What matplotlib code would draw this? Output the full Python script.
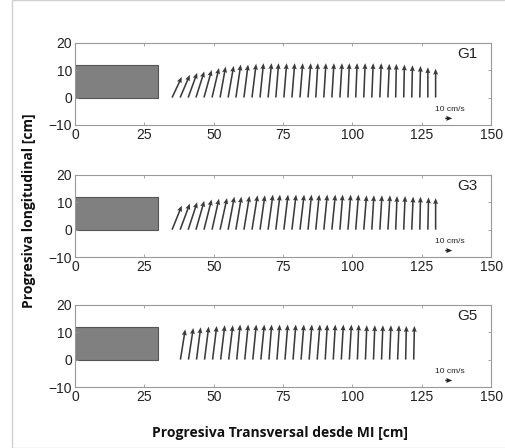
import numpy as np
import matplotlib
matplotlib.use("Agg")
import matplotlib.pyplot as plt
from matplotlib.patches import Rectangle

# arrow base positions along the cross-section [cm]
x_g1 = [35.0, 37.9, 40.8, 43.6, 46.5, 49.4, 52.3, 55.2, 58.0, 60.9, 63.8, 66.7,
        69.6, 72.4, 75.3, 78.2, 81.1, 84.0, 86.8, 89.7, 92.6, 95.5, 98.4, 101.2,
        104.1, 107.0, 109.9, 112.8, 115.6, 118.5, 121.4, 124.3, 127.2, 130.0]
x_g3 = list(x_g1)
x_g5 = [38.0, 40.9, 43.8, 46.7, 49.6, 52.5, 55.4, 58.3, 61.2, 64.1, 67.0, 69.9,
        72.8, 75.7, 78.6, 81.5, 84.4, 87.3, 90.2, 93.1, 96.0, 98.9, 101.8, 104.7,
        107.6, 110.5, 113.4, 116.3, 119.2, 122.1]

# velocity components [cm/s]
u_g1 = [14, 14, 13, 12, 11, 10, 8, 8, 7, 6, 6, 5, 5, 4, 4, 4, 4, 4, 3, 3, 3, 3,
        2, 2, 2, 2, 2, 2, 1, 1, 1, 1, 0, 0]
v_g1 = [30, 33, 36, 38, 40, 43, 45, 46, 48, 48, 49, 50, 50, 50, 50, 50, 50, 50,
        50, 50, 50, 50, 50, 50, 50, 50, 50, 49, 49, 48, 47, 46, 44, 42]
u_g3 = [14, 14, 13, 12, 11, 10, 10, 9, 8, 8, 8, 7, 7, 6, 6, 6, 6, 5, 5, 5, 5, 4,
        4, 4, 4, 3, 3, 3, 2, 2, 2, 1, 1, 0]
v_g3 = [35, 38, 40, 42, 44, 45, 46, 48, 48, 49, 50, 50, 51, 51, 51, 51, 51, 51,
        51, 51, 51, 51, 51, 51, 50, 50, 50, 50, 49, 49, 48, 48, 47, 46]
u_g5 = [7, 7, 6, 6, 6, 6, 6, 5, 5, 5, 5, 4, 4, 4, 4, 4, 4, 4, 3, 3, 3, 3, 2, 2,
        2, 2, 2, 2, 1, 1]
v_g5 = [44, 46, 47, 48, 49, 50, 50, 51, 51, 51, 51, 51, 51, 51, 51, 51, 51, 51,
        51, 51, 51, 51, 51, 50, 50, 50, 50, 50, 49, 49]

panels = [
    ("G1", x_g1, u_g1, v_g1),
    ("G3", x_g3, u_g3, v_g3),
    ("G5", x_g5, u_g5, v_g5),
]
bottoms = [0.721, 0.426, 0.136]

plt.rcParams["font.family"] = ["Liberation Sans", "DejaVu Sans"]

fig = plt.figure(figsize=(5.05, 4.48), dpi=100)
fig.patches.append(Rectangle((12 / 505, 0), 1, 1, transform=fig.transFigure,
                             fill=False, edgecolor="#d0d0d0", linewidth=1.0))

SCALE = 4.0  # cm/s per cm of plot
arrow_kw = dict(angles="xy", scale_units="xy", scale=SCALE, width=0.0038,
                headwidth=3.2, headlength=3.8, headaxislength=3.4)

for (name, x, u, v), b in zip(panels, bottoms):
    ax = fig.add_axes([0.1485, b, 0.824, 0.184])
    ax.add_patch(Rectangle((0, 0), 30, 12, facecolor="#808080",
                           edgecolor="#555555", linewidth=0.8))
    ax.quiver(x, np.zeros(len(x)), u, v, color="#3a3a3a", **arrow_kw)
    # reference arrow 10 cm/s
    ax.quiver([133.5], [-7.6], [10], [0], color="#222222", **arrow_kw)
    ax.text(135, -4.3, "10 cm/s", fontsize=6, ha="center", va="center",
            color="#222222")
    ax.text(141.5, 16, name, fontsize=11, ha="center", va="center",
            color="#222222")

    ax.set_xlim(0, 150)
    ax.set_ylim(-10, 20)
    ax.set_xticks([0, 25, 50, 75, 100, 125, 150])
    ax.set_yticks([-10, 0, 10, 20])
    ax.tick_params(direction="in", length=2.5, width=0.6, top=True, right=True,
                   labelsize=10, colors="#999999", labelcolor="#222222", pad=2)
    for s in ax.spines.values():
        s.set_edgecolor("#999999")
        s.set_linewidth(0.8)

fig.text(0.554, 0.033, "Progresiva Transversal desde MI [cm]", ha="center",
         va="center", fontsize=10, fontweight="bold", family="Open Sans",
         color="#111111")
fig.text(0.058, 0.53, "Progresiva longitudinal [cm]", ha="center", va="center",
         rotation=90, fontsize=10, fontweight="bold", family="Open Sans",
         color="#111111")

fig.savefig("out.png", dpi=100)
